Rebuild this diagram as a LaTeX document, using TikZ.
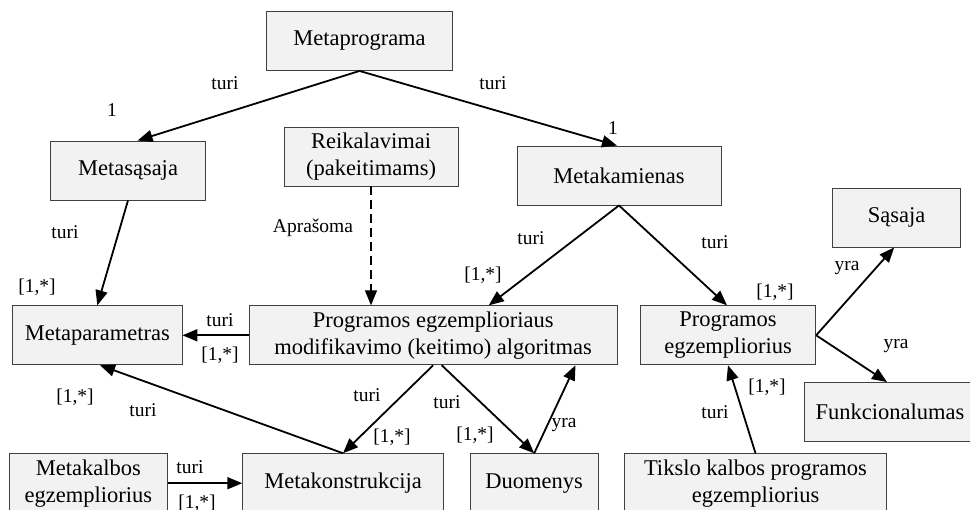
\documentclass[tikz,border=0pt]{standalone}
\usepackage{fontspec}
\setmainfont{Liberation Serif}
\usetikzlibrary{arrows.meta}
\begin{document}
\begin{tikzpicture}[x=1pt,y=-1pt,
  box/.style={draw=black!75, line width=0.9pt, fill=black!5, align=center,
    inner sep=0pt, minimum height=59pt, font=\fontsize{22.5}{27}\selectfont},
  lbl/.style={font=\fontsize{19.5}{23}\selectfont, inner sep=0pt},
  link/.style={line width=1.8pt, -{Triangle[length=15pt,width=12pt]}},
  dep/.style={line width=1.2pt, dash pattern=on 9pt off 5pt,
    -{Triangle[length=15pt,width=12pt]}}]
\useasboundingbox (0,0) rectangle (970,510);
\clip (0,0) rectangle (970,510);

% boxes
\node[box, minimum width=186pt]   (mp)   at (359.5,41)    {Metaprograma};
\node[box, minimum width=154.6pt] (ms)   at (128,170.5)   {Metasąsaja};
\node[box, minimum width=174pt]   (req)  at (371,156.5)   {Reikalavimai\\(pakeitimams)};
\node[box, minimum width=204pt]   (mk)   at (619,175.5)   {Metakamienas};
\node[box, minimum width=128pt]   (sas)  at (896.7,217.5) {Sąsaja};
\node[box, minimum width=169.3pt] (mpar) at (97.3,335.3)  {Metaparametras};
\node[box, minimum width=367.7pt] (alg)  at (433.2,335.3) {Programos egzemplioriaus\\modifikavimo (keitimo) algoritmas};
\node[box, minimum width=175.4pt] (pe)   at (728,335.3)   {Programos\\egzempliorius};
\node[box, minimum width=172pt]   (fun)  at (890,412)     {Funkcionalumas};
\node[box, minimum width=158pt]   (mke)  at (88.3,483.2)  {Metakalbos\\egzempliorius};
\node[box, minimum width=200.6pt] (mkon) at (343,483.2)   {Metakonstrukcija};
\node[box, minimum width=128.3pt] (duo)  at (534.2,483.2) {Duomenys};
\node[box, minimum width=262.4pt] (tik)  at (755.5,483.2) {Tikslo kalbos programos\\egzempliorius};

% connectors
\draw[link] (mp.south) -- ([xshift=87.3pt]ms.north west);
\draw[link] (mp.south) -- ([xshift=-2pt]mk.north);
\draw[link] (ms.south) -- (mpar.north);
\draw[dep]  (req.south) -- (req.south |- alg.north);
\draw[link] (mk.south) -- ([xshift=-128.7pt]alg.north east);
\draw[link] (mk.south) -- ([xshift=-1pt]pe.north);
\draw[link] (alg.west |- mpar.east) -- (mpar.east);
\draw[link] (mkon.north) -- ([xshift=2.7pt]mpar.south);
\draw[link] (alg.south) -- (mkon.north);
\draw[link] ([xshift=8.5pt]alg.south) -- (duo.north);
\draw[link] (duo.north) -- ([xshift=-42pt]alg.south east);
\draw[link] (mke.east) -- (mkon.west);
\draw[link] (tik.north) -- (pe.south);
\draw[link] (pe.east) -- ([xshift=-2.5pt]sas.south);
\draw[link] (pe.east) -- ([xshift=-3pt]fun.north);

% connector labels
\node[lbl] (l1)  at (225,83)    {turi};
\node[lbl] (l2)  at (112,110)   {1};
\node[lbl] (l3)  at (493,83)    {turi};
\node[lbl] (l4)  at (613,128)   {1};
\node[lbl] (l5)  at (65,232)    {turi};
\node[lbl] (l6)  at (37,287)    {[1,*]};
\node[lbl] (l7)  at (313,228)   {Aprašoma};
\node[lbl] (l8)  at (531,238)   {turi};
\node[lbl] (l9)  at (483,275)   {[1,*]};
\node[lbl] (l10) at (715,242)   {turi};
\node[lbl] (l11) at (775,292)   {[1,*]};
\node[lbl] (l12) at (220,320)   {turi};
\node[lbl] (l13) at (220,355)   {[1,*]};
\node[lbl] (l14) at (75,397)    {[1,*]};
\node[lbl] (l15) at (143,410)   {turi};
\node[lbl] (l16) at (367,395)   {turi};
\node[lbl] (l17) at (392,437)   {[1,*]};
\node[lbl] (l18) at (447,402)   {turi};
\node[lbl] (l19) at (475,435)   {[1,*]};
\node[lbl] (l20) at (564,425)   {yra};
\node[lbl] (l21) at (190,467)   {turi};
\node[lbl] (l22) at (197,503)   {[1,*]};
\node[lbl] (l23) at (715,412)   {turi};
\node[lbl] (l24) at (767,387)   {[1,*]};
\node[lbl] (l25) at (847,268)   {yra};
\node[lbl] (l26) at (896,346)   {yra};
\end{tikzpicture}
\end{document}
